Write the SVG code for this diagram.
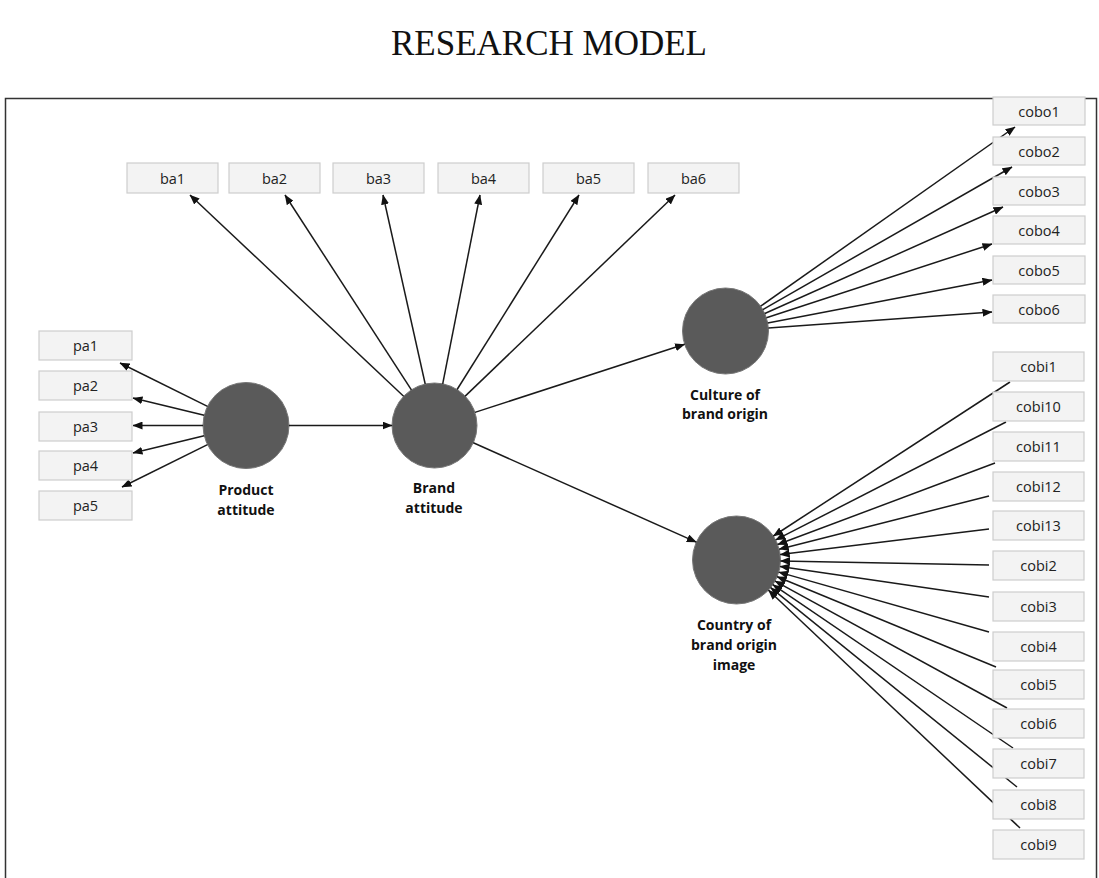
<svg xmlns="http://www.w3.org/2000/svg" width="1099" height="878" viewBox="0 0 1099 878">
<defs>
<marker id="ah" markerUnits="userSpaceOnUse" markerWidth="10" markerHeight="8" refX="9.5" refY="4" orient="auto">
<path d="M0,0 L10,4 L0,8 z" fill="#111"/>
</marker>
<style>
.box{fill:#f3f3f3;stroke:#cdcdcd;stroke-width:1.2}
.bt{font-family:"Open Sans","Noto Sans","DejaVu Sans",sans-serif;font-size:14.5px;fill:#222;text-anchor:middle;dominant-baseline:central}
.lv{fill:#5a5a5a;stroke:#777;stroke-width:1}
.lt{font-family:"Open Sans","Noto Sans","DejaVu Sans",sans-serif;font-size:14px;font-weight:bold;fill:#111;text-anchor:middle}
.c line{stroke:#1a1a1a;stroke-width:1.5;marker-end:url(#ah)}
</style>
</defs>
<rect width="1099" height="878" fill="#fff"/>
<text x="549" y="55" font-family="Liberation Serif,Times New Roman,serif" font-size="35" text-anchor="middle" fill="#111">RESEARCH MODEL</text>
<rect x="5.5" y="98.5" width="1091" height="800" fill="none" stroke="#333" stroke-width="1.5"/>

<g id="product"><circle class="lv" cx="246" cy="425.5" r="43"/><text class="lt" x="246" y="495">Product</text><text class="lt" x="246" y="515">attitude</text></g>
<g id="brand"><circle class="lv" cx="434.5" cy="425.5" r="42.5"/><text class="lt" x="434" y="493">Brand</text><text class="lt" x="434" y="513">attitude</text></g>
<g id="culture"><circle class="lv" cx="725.5" cy="331" r="43"/><text class="lt" x="725" y="400">Culture of</text><text class="lt" x="725" y="419">brand origin</text></g>
<g id="country"><circle class="lv" cx="736.5" cy="560" r="44"/><text class="lt" x="734" y="630">Country of</text><text class="lt" x="734" y="650">brand origin</text><text class="lt" x="734" y="670">image</text></g>

<g id="connectors" class="c">
<line x1="289" y1="425.5" x2="392" y2="425.5"/>
<line x1="474.9" y1="412.4" x2="684.6" y2="344.3"/>
<line x1="473.3" y1="442.8" x2="696.3" y2="542.1"/>
<line x1="207.5" y1="406.4" x2="120" y2="363"/>
<line x1="204.2" y1="415.3" x2="133" y2="398"/>
<line x1="203" y1="425.5" x2="133" y2="425.5"/>
<line x1="204.2" y1="435.7" x2="133" y2="453"/>
<line x1="207.5" y1="444.6" x2="122" y2="487"/>
<line x1="403.6" y1="396.3" x2="190" y2="195"/>
<line x1="411.4" y1="389.8" x2="285" y2="195"/>
<line x1="425.2" y1="384" x2="383" y2="195"/>
<line x1="442.7" y1="383.8" x2="480" y2="195"/>
<line x1="457.1" y1="389.5" x2="579" y2="195"/>
<line x1="465.2" y1="396.1" x2="675" y2="195"/>
<line x1="760.6" y1="306.2" x2="1015" y2="127"/>
<line x1="762.8" y1="309.6" x2="1012" y2="167"/>
<line x1="764.8" y1="313.5" x2="1003" y2="207"/>
<line x1="766.4" y1="317.7" x2="992" y2="244"/>
<line x1="767.7" y1="322.9" x2="992" y2="280"/>
<line x1="768.4" y1="327.9" x2="992" y2="312"/>
<line x1="1010" y1="382" x2="773.4" y2="536"/>
<line x1="1006" y1="422" x2="775.7" y2="539.9"/>
<line x1="995" y1="463" x2="777.7" y2="544.5"/>
<line x1="989" y1="496" x2="779.2" y2="549.2"/>
<line x1="989" y1="529" x2="780.2" y2="554.6"/>
<line x1="989" y1="565" x2="780.5" y2="560.9"/>
<line x1="989" y1="597" x2="780" y2="566.4"/>
<line x1="989" y1="632" x2="778.8" y2="572.1"/>
<line x1="996" y1="667" x2="777.2" y2="576.8"/>
<line x1="1007" y1="708" x2="775.1" y2="581.1"/>
<line x1="1013" y1="748" x2="772.9" y2="584.7"/>
<line x1="1017" y1="787" x2="770.7" y2="587.7"/>
<line x1="1020" y1="828" x2="768.5" y2="590.2"/>
</g>

<g id="ba1"><rect class="box" x="127" y="163" width="91" height="30"/><text class="bt" x="172.5" y="178">ba1</text></g>
<g id="ba2"><rect class="box" x="229" y="163" width="91" height="30"/><text class="bt" x="274.5" y="178">ba2</text></g>
<g id="ba3"><rect class="box" x="333" y="163" width="91" height="30"/><text class="bt" x="378.5" y="178">ba3</text></g>
<g id="ba4"><rect class="box" x="438" y="163" width="91" height="30"/><text class="bt" x="483.5" y="178">ba4</text></g>
<g id="ba5"><rect class="box" x="543" y="163" width="91" height="30"/><text class="bt" x="588.5" y="178">ba5</text></g>
<g id="ba6"><rect class="box" x="648" y="163" width="91" height="30"/><text class="bt" x="693.5" y="178">ba6</text></g>

<g id="pa1"><rect class="box" x="39" y="331" width="93" height="29"/><text class="bt" x="85.5" y="345.5">pa1</text></g>
<g id="pa2"><rect class="box" x="39" y="371" width="93" height="29"/><text class="bt" x="85.5" y="385.5">pa2</text></g>
<g id="pa3"><rect class="box" x="39" y="412" width="93" height="29"/><text class="bt" x="85.5" y="426.5">pa3</text></g>
<g id="pa4"><rect class="box" x="39" y="451" width="93" height="29"/><text class="bt" x="85.5" y="465.5">pa4</text></g>
<g id="pa5"><rect class="box" x="39" y="491" width="93" height="29"/><text class="bt" x="85.5" y="505.5">pa5</text></g>

<g id="cobo1"><rect class="box" x="993" y="97" width="92" height="28"/><text class="bt" x="1039" y="111">cobo1</text></g>
<g id="cobo2"><rect class="box" x="993" y="137" width="92" height="28"/><text class="bt" x="1039" y="151">cobo2</text></g>
<g id="cobo3"><rect class="box" x="993" y="177" width="92" height="28"/><text class="bt" x="1039" y="191">cobo3</text></g>
<g id="cobo4"><rect class="box" x="993" y="216" width="92" height="28"/><text class="bt" x="1039" y="230">cobo4</text></g>
<g id="cobo5"><rect class="box" x="993" y="256" width="92" height="28"/><text class="bt" x="1039" y="270">cobo5</text></g>
<g id="cobo6"><rect class="box" x="993" y="295" width="92" height="28"/><text class="bt" x="1039" y="309">cobo6</text></g>

<g id="cobi1"><rect class="box" x="993" y="352" width="91" height="29"/><text class="bt" x="1038.5" y="366.5">cobi1</text></g>
<g id="cobi10"><rect class="box" x="993" y="392" width="91" height="29"/><text class="bt" x="1038.5" y="406.5">cobi10</text></g>
<g id="cobi11"><rect class="box" x="993" y="432" width="91" height="29"/><text class="bt" x="1038.5" y="446.5">cobi11</text></g>
<g id="cobi12"><rect class="box" x="993" y="472" width="91" height="29"/><text class="bt" x="1038.5" y="486.5">cobi12</text></g>
<g id="cobi13"><rect class="box" x="993" y="511" width="91" height="29"/><text class="bt" x="1038.5" y="525.5">cobi13</text></g>
<g id="cobi2"><rect class="box" x="993" y="551" width="91" height="29"/><text class="bt" x="1038.5" y="565.5">cobi2</text></g>
<g id="cobi3"><rect class="box" x="993" y="592" width="91" height="29"/><text class="bt" x="1038.5" y="606.5">cobi3</text></g>
<g id="cobi4"><rect class="box" x="993" y="632" width="91" height="29"/><text class="bt" x="1038.5" y="646.5">cobi4</text></g>
<g id="cobi5"><rect class="box" x="993" y="670" width="91" height="29"/><text class="bt" x="1038.5" y="684.5">cobi5</text></g>
<g id="cobi6"><rect class="box" x="993" y="709" width="91" height="29"/><text class="bt" x="1038.5" y="723.5">cobi6</text></g>
<g id="cobi7"><rect class="box" x="993" y="749" width="91" height="29"/><text class="bt" x="1038.5" y="763.5">cobi7</text></g>
<g id="cobi8"><rect class="box" x="993" y="790" width="91" height="29"/><text class="bt" x="1038.5" y="804.5">cobi8</text></g>
<g id="cobi9"><rect class="box" x="993" y="830" width="91" height="29"/><text class="bt" x="1038.5" y="844.5">cobi9</text></g>
</svg>
